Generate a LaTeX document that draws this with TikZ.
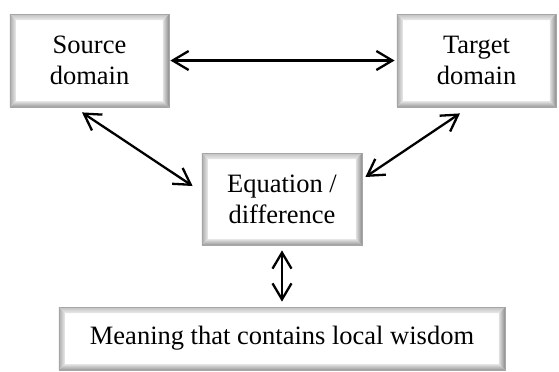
\documentclass[tikz,border=0pt]{standalone}
\usepackage{fontspec}
\setmainfont{Liberation Serif}
\usetikzlibrary{arrows.meta}
\newcommand{\bevw}{3pt}

\begin{document}
\begin{tikzpicture}[x=1pt, y=1pt,
    bevelbox/.style={fill=white, draw=gray!70, line width=0.4pt, align=center, inner sep=0pt,
      font=\fontsize{13.25}{15.5}\selectfont,
      path picture={
        \coordinate (pnw) at (path picture bounding box.north west);
        \coordinate (pne) at (path picture bounding box.north east);
        \coordinate (psw) at (path picture bounding box.south west);
        \coordinate (pse) at (path picture bounding box.south east);
        \shade[top color=gray!50, bottom color=gray!15] (pnw) -- (pne) -- ([shift={(-\bevw,-\bevw)}]pne) -- ([shift={(\bevw,-\bevw)}]pnw) -- cycle;
        \shade[top color=gray!20, bottom color=gray!80] (psw) -- (pse) -- ([shift={(-\bevw,\bevw)}]pse) -- ([shift={(\bevw,\bevw)}]psw) -- cycle;
        \shade[left color=gray!65, right color=gray!15] (pnw) -- (psw) -- ([shift={(\bevw,\bevw)}]psw) -- ([shift={(\bevw,-\bevw)}]pnw) -- cycle;
        \shade[left color=gray!25, right color=gray!90] (pne) -- (pse) -- ([shift={(-\bevw,\bevw)}]pse) -- ([shift={(-\bevw,-\bevw)}]pne) -- cycle;
      }},
    biarrow/.style={{Straight Barb[length=8pt,width=9.5pt]}-{Straight Barb[length=8pt,width=9.5pt]}, line width=1.15pt}]
    \useasboundingbox (0,0) rectangle (279.5,-185.5);
    \node[bevelbox, minimum width=79.5pt, minimum height=46.5pt] (source) at (44.75,-30.25) {Source\\domain};
    \node[bevelbox, minimum width=79.5pt, minimum height=46.5pt] (target) at (238.25,-30.25) {Target\\domain};
    \node[bevelbox, minimum width=80pt, minimum height=46pt] (equation) at (141,-99.5) {Equation /\\difference};
    \node[bevelbox, minimum width=223pt, minimum height=31.5pt] (meaning) at (141,-169.25) {Meaning that contains local wisdom};
    \draw[biarrow, shorten <=0.5pt, shorten >=1pt] (source) -- (target);
    \draw[biarrow] ([shift={(-3.75,-2.5)}]source.south) -- ([shift={(-4.5,6.5)}]equation.west);
    \draw[biarrow] ([shift={(-8.25,-3)}]target.south) -- ([shift={(1.5,11)}]equation.east);
    \draw[biarrow, shorten <=2.5pt, shorten >=2.5pt] (equation) -- (meaning);
  \end{tikzpicture}
\end{document}
